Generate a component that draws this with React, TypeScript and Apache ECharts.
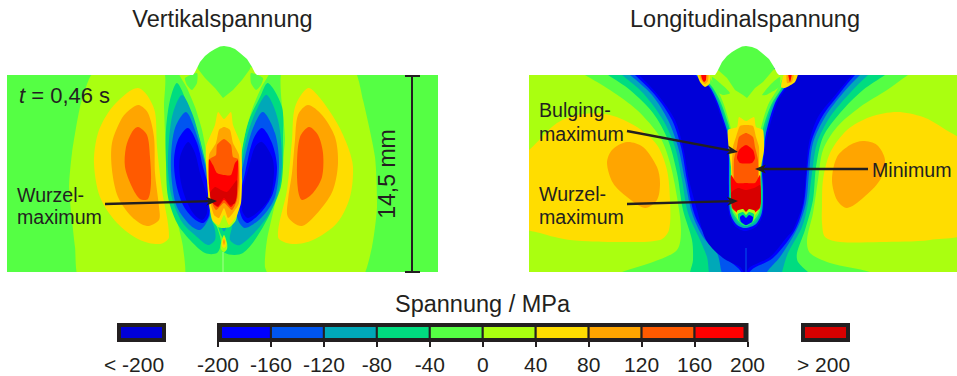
import React, { useEffect, useRef } from "react";
import * as echarts from "echarts";

type Pt = [number, number];

// Contour-band colours (MPa classes)
const UNDER = "#0000d8";
const B1 = "#0000ff";
const B2 = "#0055f0";
const B3 = "#00a8b8";
const B4 = "#00dc80";
const B5 = "#55ff44";
const B6 = "#aaff10";
const B7 = "#ffdd00";
const B8 = "#ffa500";
const B9 = "#ff5a00";
const B10 = "#ff0000";
const OVER = "#d80000";
const INK = "#231f20";

const bandEdges = [-200, -160, -120, -80, -40, 0, 40, 80, 120, 160, 200];
const bandColors = [B1, B2, B3, B4, B5, B6, B7, B8, B9, B10];

// Cross-section outline, x = distance from the weld axis, y = depth below the plate top
const maskL: Pt[] = [[-225, -35], [-225, 0], [-31, 0], [-29, -3], [-27, -7], [-24, -13], [-19, -19], [-14, -23], [-9, -26], [-4, -28.5], [0, -29], [0, -35]];
const maskR: Pt[] = [[0, -35], [0, -29], [6, -28], [11, -26], [16, -22], [23, -16], [28, -8], [31, -2], [33, 0], [225, 0], [225, -35]];
const plateV: Pt[] = [[-225, -35], [225, -35], [225, 205], [-225, 205]];

// ---- Vertikalspannung contours ----
const vOuterL: Pt[] = [[-134, 2], [-124, -6], [-61, -6], [-60, 32], [-57, 92], [-47, 145], [-41, 172], [-41, 205], [-144, 205], [-149, 172], [-152, 145], [-155, 112], [-152, 78], [-144, 32]];
const vY7L: Pt[] = [[-86, 13], [-77, 20], [-69, 37], [-67, 72], [-62, 115], [-55, 162], [-64, 169], [-84, 165], [-107, 148], [-124, 122], [-130, 88], [-126, 58], [-114, 35], [-97, 18]];
const vY8L: Pt[] = [[-85, 30], [-76, 38], [-70, 62], [-69, 98], [-65, 132], [-65, 145], [-77, 151], [-92, 142], [-106, 122], [-112, 95], [-112, 68], [-102, 43], [-92, 33]];
const vY9L: Pt[] = [[-86, 52], [-77, 60], [-74, 82], [-73, 108], [-76, 124], [-84, 124], [-92, 112], [-99, 92], [-98, 72], [-92, 57]];
const vOuterR: Pt[] = [[59, -6], [129, -6], [139, 25], [151, 82], [153, 132], [148, 172], [136, 205], [49, 205], [41, 192], [43, 165], [54, 115], [61, 65]];
const vY7R: Pt[] = [[84, 13], [96, 23], [113, 48], [124, 72], [129, 92], [126, 122], [113, 148], [89, 165], [68, 169], [54, 162], [63, 115], [68, 65], [71, 32]];
const vY8R: Pt[] = [[84, 30], [98, 40], [111, 62], [114, 88], [109, 115], [96, 135], [78, 151], [64, 142], [64, 125], [68, 98], [71, 65], [74, 40]];
const vY9R: Pt[] = [[85, 52], [94, 60], [99, 78], [98, 102], [89, 118], [78, 125], [74, 115], [73, 88], [76, 62]];

const vG4L: Pt[] = [[-47, 8], [-37, 28], [-27, 55], [-19, 88], [-13, 122], [-11, 142], [-6, 155], [-3, 168], [-7, 178], [-19, 178], [-34, 165], [-47, 148], [-56, 122], [-58, 88], [-58, 55], [-54, 25]];
const vG3L: Pt[] = [[-42, 20], [-32, 38], [-24, 65], [-17, 95], [-13, 125], [-12, 145], [-9, 155], [-9, 165], [-16, 170], [-27, 162], [-42, 147], [-52, 123], [-56, 95], [-55, 65], [-51, 38]];
const vG2L: Pt[] = [[-38, 37], [-29, 55], [-21, 82], [-15, 108], [-13, 135], [-16, 145], [-24, 155], [-34, 150], [-47, 132], [-52, 108], [-53, 82], [-49, 53]];
const vG1L: Pt[] = [[-36, 53], [-27, 68], [-21, 92], [-15, 115], [-15, 140], [-21, 148], [-31, 143], [-41, 130], [-48, 108], [-50, 85], [-46, 65]];
const vG0L: Pt[] = [[-36, 67], [-29, 78], [-24, 98], [-17, 122], [-17, 138], [-22, 145], [-31, 138], [-39, 122], [-44, 102], [-44, 82]];
const vG4R: Pt[] = [[44, 8], [58, 32], [59, 65], [59, 92], [56, 115], [39, 152], [19, 178], [1, 178], [-2, 165], [4, 138], [14, 92], [24, 48], [36, 22]];
const vG3R: Pt[] = [[43, 20], [54, 45], [58, 85], [54, 118], [41, 145], [16, 170], [6, 165], [8, 152], [14, 108], [24, 58], [34, 32]];
const vG2R: Pt[] = [[39, 37], [51, 58], [55, 88], [51, 122], [38, 142], [21, 153], [13, 142], [14, 115], [21, 82], [29, 53]];
const vG1R: Pt[] = [[38, 53], [48, 68], [53, 92], [49, 118], [39, 135], [24, 148], [18, 143], [15, 128], [21, 98], [29, 65]];
const vG0R: Pt[] = [[38, 67], [48, 82], [50, 98], [46, 122], [36, 135], [24, 143], [18, 135], [19, 115], [26, 88], [31, 72]];

const vCentre: Pt[] = [[-46, -6], [-37, 13], [-29, 32], [-22, 55], [-17, 82], [-16, 105], [-15, 128], [-12, 145], [-6, 152], [-1, 153], [6, 152], [12, 145], [15, 128], [16, 105], [17, 82], [22, 55], [29, 32], [37, 13], [46, -6]];
const vDome: Pt[] = [[-26, -35], [-26, -6], [-19, 3], [-9, 13], [-1, 23], [9, 15], [18, 5], [26, -6], [26, -35]];
const vPatchL: Pt[] = [[-39, 3], [-27, -2], [-27, 8], [-32, 15], [-37, 10]];
const vPatchR: Pt[] = [[39, 3], [27, -2], [27, 8], [32, 15], [37, 10]];
const vC7: Pt[] = [[-6, 37], [0, 44], [7, 37], [9, 50], [17, 70], [18, 105], [17, 128], [12, 142], [5, 150], [0, 140], [-5, 150], [-11, 146], [-15, 128], [-17, 105], [-18, 72], [-9, 50]];
const vC8: Pt[] = [[-5, 55], [0, 52], [6, 55], [9, 68], [15, 80], [16, 105], [15, 128], [9, 138], [4, 143], [0, 133], [-5, 143], [-10, 140], [-14, 125], [-15, 105], [-15, 80], [-8, 68]];
const vC9: Pt[] = [[0, 64], [7, 70], [9, 82], [14, 84], [15, 105], [13, 125], [8, 135], [0, 128], [-8, 135], [-13, 125], [-15, 105], [-14, 84], [-8, 80], [-7, 70]];
const vC10: Pt[] = [[-15, 84], [-11, 90], [-7, 98], [0, 100], [7, 100], [11, 88], [14, 85], [13, 115], [12, 125], [7, 132], [0, 125], [-6, 132], [-12, 127], [-15, 110]];
const vCOver: Pt[] = [[-14, 118], [-9, 112], [-3, 115], [3, 117], [9, 110], [13, 105], [13, 118], [11, 128], [6, 130], [0, 123], [-6, 131], [-12, 127]];
const vNeckG: Pt[] = [[-6, 148], [0, 146], [6, 148], [3, 160], [0, 163], [-3, 160]];
const vNeckT: Pt[] = [[-2, 150], [2, 150], [1, 156], [-1, 156]];
const vStalk6: Pt[] = [[0, 160], [3, 168], [3, 174], [0, 177], [-3, 174], [-3, 168]];
const vStalk7: Pt[] = [[0, 162], [2, 167], [2, 171], [0, 173], [-2, 171], [-2, 167]];
const vStalk8: Pt[] = [[0, 164], [1, 167], [0, 170], [-1, 167]];
const vStem: Pt[] = [[-1.5, 177], [-0.5, 177], [-0.5, 205], [-1.5, 205]];

// ---- Longitudinalspannung contours ----
const lBlobYL: Pt[] = [[-225, 78], [-217, 75], [-189, 48], [-163, 39], [-136, 40], [-109, 52], [-89, 70], [-79, 95], [-76, 125], [-77, 155], [-86, 165], [-126, 167], [-176, 165], [-206, 158], [-225, 150]];
const lBlobOL: Pt[] = [[-139, 88], [-134, 75], [-119, 67], [-103, 72], [-89, 92], [-86, 108], [-89, 125], [-101, 133], [-119, 122], [-133, 108]];
const lBlobYR: Pt[] = [[76, 132], [77, 105], [84, 78], [101, 55], [124, 42], [151, 37], [177, 42], [197, 53], [225, 75], [225, 155], [184, 165], [134, 167], [94, 167], [79, 162], [76, 148]];
const lBlobOR: Pt[] = [[86, 105], [91, 82], [104, 70], [117, 66], [131, 70], [139, 85], [134, 105], [117, 123], [101, 133], [91, 125]];

const lV5: Pt[] = [[-175, -8], [-161, 0], [-136, 15], [-109, 35], [-86, 62], [-76, 88], [-69, 122], [-65, 155], [-69, 175], [-93, 187], [-124, 197], [-140, 205], [140, 205], [124, 197], [84, 188], [64, 178], [61, 165], [67, 138], [72, 105], [77, 75], [91, 52], [114, 32], [141, 15], [162, 0], [175, -8]];
const lV4: Pt[] = [[-150, -8], [-138, 0], [-116, 15], [-93, 38], [-78, 65], [-69, 98], [-63, 135], [-54, 165], [-53, 185], [-55, 205], [70, 205], [62, 197], [52, 187], [51, 178], [59, 155], [67, 125], [70, 92], [77, 62], [94, 38], [117, 15], [139, 0], [150, -8]];
const lV3: Pt[] = [[-135, -8], [-124, 0], [-103, 18], [-83, 45], [-71, 72], [-64, 105], [-58, 138], [-46, 165], [-39, 182], [-33, 205], [34, 205], [36, 197], [42, 178], [56, 152], [62, 128], [66, 98], [71, 68], [84, 42], [104, 18], [122, 0], [133, -8]];
const lV2: Pt[] = [[-127, -8], [-116, 0], [-94, 20], [-78, 45], [-68, 72], [-61, 105], [-54, 138], [-43, 162], [-29, 178], [-20, 205], [20, 205], [21, 197], [34, 182], [52, 152], [60, 128], [63, 98], [67, 68], [79, 42], [97, 18], [114, 0], [124, -8]];
const lV1: Pt[] = [[-120, -8], [-111, 0], [-91, 20], [-74, 45], [-65, 72], [-59, 105], [-52, 138], [-41, 160], [-24, 180], [-8, 193], [-1, 200], [8, 193], [27, 183], [49, 155], [58, 128], [61, 98], [65, 68], [76, 42], [94, 18], [109, 0], [118, -8]];
const lV0: Pt[] = [[-116, -8], [-107, 0], [-88, 20], [-71, 45], [-63, 72], [-57, 105], [-49, 135], [-40, 165], [-23, 183], [-6, 192], [-1, 198], [4, 192], [24, 182], [41, 162], [47, 155], [57, 128], [60, 98], [63, 68], [72, 42], [91, 18], [106, 0], [114, -8]];

const lT1: Pt[] = [[-55, -5], [-53, 0], [-39, 10], [-31, 25], [-24, 45], [-19, 60], [-18, 82], [-18, 112], [-17, 138], [-11, 151], [-1, 156], [11, 151], [17, 138], [18, 115], [17, 95], [19, 75], [22, 58], [31, 28], [41, 12], [52, 0], [55, -5]];
const lT3: Pt[] = [[-52, -5], [-50, 0], [-37, 11], [-29, 26], [-22, 46], [-18, 60], [-17, 82], [-17, 112], [-16, 137], [-10, 149], [-1, 153], [10, 149], [16, 137], [17, 115], [16, 95], [18, 75], [20, 58], [29, 28], [39, 12], [49, 0], [52, -5]];
const lT4: Pt[] = [[-48, -5], [-47, 0], [-35, 12], [-27, 27], [-20, 47], [-17, 60], [-16, 82], [-16, 112], [-15, 136], [-9, 147], [-1, 151], [9, 147], [15, 136], [16, 115], [15, 95], [17, 75], [18, 58], [27, 29], [37, 13], [46, 0], [48, -5]];
const lT5: Pt[] = [[-46, -5], [-44, 0], [-33, 13], [-25, 28], [-18, 48], [-15, 61], [-15, 82], [-15, 112], [-14, 135], [-8, 145], [-1, 149], [8, 145], [14, 135], [15, 115], [14, 95], [16, 76], [16, 58], [25, 30], [35, 14], [43, 0], [45, -5]];
const lT6: Pt[] = [[-40, -5], [-38, 0], [-30, 12], [-22, 30], [-16, 50], [-14, 62], [-14, 82], [-14, 112], [-13, 134], [-7, 143], [-1, 147], [7, 143], [13, 134], [14, 115], [13, 95], [14, 76], [14, 58], [22, 30], [31, 15], [38, 0], [40, -5]];
const lPatchL: Pt[] = [[-34, 2], [-26, 8], [-16, 18], [-23, 20], [-31, 15]];
const lPatchR: Pt[] = [[34, 2], [33, 12], [20, 20], [16, 20], [26, 8]];
const lDome: Pt[] = [[-40, -35], [40, -35], [29, -7], [17, 7], [9, 13], [1, 23], [-3, 20], [-11, 15], [-19, 3], [-28, -5]];
const lHornLY: Pt[] = [[-49, -3], [-37, -3], [-36, 8], [-41, 12], [-46, 7]];
const lHornLO: Pt[] = [[-47, -3], [-38, -3], [-38, 6], [-41, 9], [-45, 5]];
const lHornLR: Pt[] = [[-45, -3], [-40, -3], [-40, 5], [-42, 7], [-44, 4]];
const lHornRY: Pt[] = [[39, -3], [52, -3], [49, 7], [39, 13], [35, 12]];
const lHornRO: Pt[] = [[41, -3], [48, -3], [46, 7], [41, 8]];
const lHornRR: Pt[] = [[42, -3], [46, -3], [44, 7]];
const lC7: Pt[] = [[-7, 42], [0, 46], [8, 42], [10, 52], [17, 55], [18, 75], [15, 92], [14, 115], [13, 133], [7, 142], [0, 148], [-7, 142], [-13, 133], [-14, 112], [-15, 92], [-17, 75], [-18, 55], [-9, 52]];
const lC8: Pt[] = [[-6, 51], [0, 50], [7, 51], [10, 62], [13, 72], [13, 92], [13, 112], [12, 131], [6, 140], [0, 146], [-6, 140], [-12, 131], [-13, 112], [-14, 92], [-13, 72], [-10, 62]];
const lC9: Pt[] = [[0, 58], [7, 62], [9, 72], [12, 85], [12, 110], [10, 128], [0, 128], [-10, 128], [-12, 110], [-12, 85], [-9, 72], [-7, 62]];
const lC10Up: Pt[] = [[0, 70], [7, 75], [9, 83], [6, 88], [-6, 88], [-9, 83], [-7, 75]];
const lC10Low: Pt[] = [[-15, 100], [-9, 108], [0, 108], [9, 108], [14, 100], [15, 125], [14, 133], [8, 138], [0, 138], [-8, 138], [-14, 133], [-15, 120]];
const lCOver: Pt[] = [[-15, 118], [-8, 113], [0, 115], [8, 113], [14, 110], [15, 125], [13, 133], [7, 136], [0, 136], [-7, 136], [-13, 133]];
const lH6: Pt[] = [[-9, 136], [-3, 134], [0, 137], [3, 134], [9, 136], [8, 145], [0, 151], [-8, 145]];
const lH4: Pt[] = [[-8, 139], [-3, 137], [0, 140], [3, 137], [8, 139], [7, 146], [0, 151], [-7, 146]];
const lH1: Pt[] = [[-6, 142], [-3, 140], [0, 143], [3, 140], [7, 142], [6, 147], [0, 150], [-5, 147]];
const lStem: Pt[] = [[-0.5, 173], [0.5, 173], [0.5, 205], [-0.5, 205]];
const lPlate: Pt[] = plateV;

type Layer = { c: string; p: Pt[]; s?: number };
const S = 0.3;
const T = 0.2;

const verticalLayers: Layer[] = [
  { c: B5, p: plateV, s: 0 },
  { c: B6, p: vOuterL, s: T }, { c: B7, p: vY7L, s: S }, { c: B8, p: vY8L, s: S }, { c: B9, p: vY9L, s: S },
  { c: B6, p: vOuterR, s: T }, { c: B7, p: vY7R, s: S }, { c: B8, p: vY8R, s: S }, { c: B9, p: vY9R, s: S },
  { c: B4, p: vG4L, s: S }, { c: B3, p: vG3L, s: S }, { c: B2, p: vG2L, s: S }, { c: B1, p: vG1L, s: S }, { c: UNDER, p: vG0L, s: S },
  { c: B4, p: vG4R, s: S }, { c: B3, p: vG3R, s: S }, { c: B2, p: vG2R, s: S }, { c: B1, p: vG1R, s: S }, { c: UNDER, p: vG0R, s: S },
  { c: B4, p: vNeckG, s: S }, { c: B3, p: vNeckT, s: S },
  { c: B6, p: vCentre, s: T }, { c: B5, p: vDome, s: 0 }, { c: B5, p: vPatchL, s: T }, { c: B5, p: vPatchR, s: T },
  { c: B7, p: vC7, s: T }, { c: B8, p: vC8, s: T }, { c: B9, p: vC9, s: T }, { c: B10, p: vC10, s: T }, { c: OVER, p: vCOver, s: T },
  { c: B6, p: vStalk6, s: S }, { c: B7, p: vStalk7, s: S }, { c: B8, p: vStalk8, s: S }, { c: "#a8ff90", p: vStem, s: 0 },
  { c: "#ffffff", p: maskL, s: 0 }, { c: "#ffffff", p: maskR, s: 0 },
];

const longitudinalLayers: Layer[] = [
  { c: B6, p: lPlate, s: 0 },
  { c: B7, p: lBlobYL, s: S }, { c: B8, p: lBlobOL, s: S }, { c: B7, p: lBlobYR, s: S }, { c: B8, p: lBlobOR, s: S },
  { c: B5, p: lV5, s: S }, { c: B4, p: lV4, s: S }, { c: B3, p: lV3, s: S }, { c: B2, p: lV2, s: S }, { c: B1, p: lV1, s: S }, { c: UNDER, p: lV0, s: S },
  { c: B1, p: lT1, s: S }, { c: B3, p: lT3, s: S }, { c: B4, p: lT4, s: S }, { c: B5, p: lT5, s: S }, { c: B6, p: lT6, s: S },
  { c: B5, p: lPatchL, s: T }, { c: B5, p: lPatchR, s: T }, { c: B5, p: lDome, s: 0 },
  { c: B7, p: lHornLY, s: T }, { c: B8, p: lHornLO, s: T }, { c: B10, p: lHornLR, s: T },
  { c: B7, p: lHornRY, s: T }, { c: B8, p: lHornRO, s: T }, { c: B10, p: lHornRR, s: T },
  { c: B7, p: lC7, s: T }, { c: B8, p: lC8, s: T }, { c: B9, p: lC9, s: T }, { c: B10, p: lC10Up, s: T }, { c: B10, p: lC10Low, s: T }, { c: OVER, p: lCOver, s: T },
  { c: B6, p: lH6, s: T }, { c: B4, p: lH4, s: T }, { c: B1, p: lH1, s: T },
  { c: B2, p: lStem, s: 0 },
  { c: "#ffffff", p: maskL, s: 0 }, { c: "#ffffff", p: maskR, s: 0 },
];

function contourSeries(name: string, layers: Layer[], axisIndex: number) {
  return {
    type: "custom",
    name,
    xAxisIndex: axisIndex,
    yAxisIndex: axisIndex,
    clip: true,
    silent: true,
    data: layers.map((_, i) => [i]),
    renderItem: (params: any, api: any) => {
      const layer = layers[params.dataIndex];
      return {
        type: "polygon",
        shape: { points: layer.p.map((q) => api.coord(q)), smooth: layer.s || 0 },
        style: { fill: layer.c, stroke: null },
      };
    },
  };
}

const font = "'Liberation Sans', Arial, sans-serif";
const FS = 19.6;
const FT = 23.5;
const FA = 21;

function text(x: number, y: number, t: string, align = "left", size = FS) {
  return {
    type: "text",
    x,
    y,
    silent: true,
    z: 50,
    style: { text: t, fontFamily: font, fontSize: size, fill: INK, align, verticalAlign: "middle" },
  };
}

function arrow(x1: number, y1: number, x2: number, y2: number) {
  const a = Math.atan2(y2 - y1, x2 - x1);
  const cx = Math.cos(a);
  const sx = Math.sin(a);
  const pt = (l: number, w: number) => [x2 - l * cx - w * sx, y2 - l * sx + w * cx];
  return [
    { type: "line", z: 50, silent: true, shape: { x1, y1, x2: pt(6, 0)[0], y2: pt(6, 0)[1] }, style: { stroke: INK, lineWidth: 2.4 } },
    { type: "polygon", z: 50, silent: true, shape: { points: [[x2, y2], pt(11, 4.5), pt(8, 0), pt(11, -4.5)] }, style: { fill: INK } },
  ];
}

export default function App() {
  const ref = useRef<HTMLDivElement>(null);
  useEffect(() => {
    const chart = echarts.init(ref.current!, undefined, { renderer: "svg" });
    const hiddenAxis = (gridIndex: number, min: number, max: number, inverse = false) => ({
      type: "value", show: false, gridIndex, min, max, inverse,
    });
    chart.setOption({
      animation: false,
      backgroundColor: "#ffffff",
      grid: [
        { left: 7, top: 44, width: 431, height: 228 },
        { left: 529, top: 44, width: 428, height: 228 },
        { left: 218, top: 323, width: 529.5, height: 19 },
      ],
      xAxis: [
        hiddenAxis(0, -217, 214),
        hiddenAxis(1, -217, 211),
        {
          type: "value",
          gridIndex: 2,
          min: bandEdges[0],
          max: bandEdges[bandEdges.length - 1],
          interval: 40,
          splitLine: { show: false },
          axisLine: { show: false },
          axisTick: { show: true, length: 5, lineStyle: { color: INK, width: 2 } },
          axisLabel: { color: INK, fontFamily: font, fontSize: FA, margin: 12, showMinLabel: true, showMaxLabel: true },
        },
      ],
      yAxis: [
        hiddenAxis(0, -31, 197, true),
        hiddenAxis(1, -31, 197, true),
        hiddenAxis(2, 0, 1),
      ],
      series: [
        contourSeries("Vertikalspannung", verticalLayers, 0),
        contourSeries("Longitudinalspannung", longitudinalLayers, 1),
        {
          type: "custom",
          name: "Spannung",
          xAxisIndex: 2,
          yAxisIndex: 2,
          silent: true,
          clip: false,
          data: bandColors.map((_, i) => [bandEdges[i], bandEdges[i + 1]]),
          renderItem: (params: any, api: any) => {
            const i = params.dataIndex;
            const a = api.coord([api.value(0), 1]);
            const b = api.coord([api.value(1), 0]);
            const l = i === 0 ? a[0] + 4 : a[0] + 1;
            const r = i === bandColors.length - 1 ? b[0] - 4 : b[0] - 1;
            return {
              type: "group",
              children: [
                { type: "rect", shape: { x: a[0] - 1, y: a[1], width: b[0] - a[0] + 2, height: b[1] - a[1] }, style: { fill: INK } },
                { type: "rect", shape: { x: l, y: a[1] + 4, width: r - l, height: b[1] - a[1] - 8 }, style: { fill: bandColors[i] } },
              ],
            };
          },
        },
      ],
      graphic: [
        text(222.5, 19, "Vertikalspannung", "center", FT),
        text(745, 19, "Longitudinalspannung", "center", FT),
        text(482.5, 304, "Spannung / MPa", "center", FT),
        {
          type: "text", x: 19, y: 95, z: 50, silent: true,
          style: {
            text: "{i|t} = 0,46 s", fontFamily: font, fontSize: 22, fill: INK, verticalAlign: "middle",
            rich: { i: { fontStyle: "italic", fontFamily: font, fontSize: 22, fill: INK } },
          },
        },
        text(17, 195, "Wurzel-"),
        text(17, 217, "maximum"),
        text(539, 110, "Bulging-"),
        text(539, 134, "maximum"),
        text(539, 194, "Wurzel-"),
        text(539, 217, "maximum"),
        text(872, 170, "Minimum"),
        { ...text(387, 174, "14,5 mm", "center", 23), rotation: Math.PI / 2 },
        { type: "line", z: 50, silent: true, shape: { x1: 412, y1: 75, x2: 412, y2: 272 }, style: { stroke: INK, lineWidth: 2 } },
        { type: "line", z: 50, silent: true, shape: { x1: 405, y1: 76, x2: 420, y2: 76 }, style: { stroke: INK, lineWidth: 2 } },
        { type: "line", z: 50, silent: true, shape: { x1: 405, y1: 272, x2: 420, y2: 272 }, style: { stroke: INK, lineWidth: 2 } },
        ...arrow(105, 204, 217, 201),
        ...arrow(627, 131, 738, 152),
        ...arrow(627, 204, 738, 201),
        ...arrow(868, 169, 755, 169),
        { type: "rect", z: 40, silent: true, shape: { x: 117, y: 323, width: 49, height: 19 }, style: { fill: INK } },
        { type: "rect", z: 41, silent: true, shape: { x: 121, y: 327, width: 41, height: 11 }, style: { fill: UNDER } },
        { type: "rect", z: 40, silent: true, shape: { x: 801, y: 323, width: 49, height: 19 }, style: { fill: INK } },
        { type: "rect", z: 41, silent: true, shape: { x: 805, y: 327, width: 41, height: 11 }, style: { fill: OVER } },
        text(104, 364, "< -200", "left", FA),
        text(797, 364, "> 200", "left", FA),
      ],
    });
    return () => chart.dispose();
  }, []);
  return <div ref={ref} style={{ position: "fixed", left: 0, top: 0, width: 957, height: 376 }} />;
}
